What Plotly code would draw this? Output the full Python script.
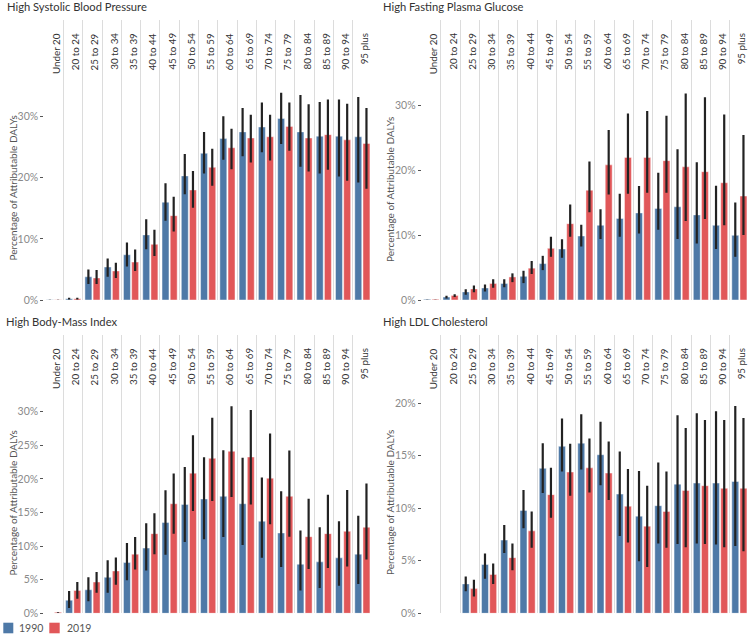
import plotly.graph_objects as go

W, H = 750, 642

ages = ["Under 20", "20 to 24", "25 to 29", "30 to 34", "35 to 39", "40 to 44",
        "45 to 49", "50 to 54", "55 to 59", "60 to 64", "65 to 69", "70 to 74",
        "75 to 79", "80 to 84", "85 to 89", "90 to 94", "95 plus"]

# High Systolic Blood Pressure
sbp_1990 = [0.05, 0.2, 3.8, 5.4, 7.4, 10.65, 16.0, 20.3, 24.0, 26.4, 27.5, 28.3, 29.7, 27.5, 26.8, 26.8, 26.7]
sbp_1990_hi = [0.07, 0.35, 5.0, 6.8, 9.4, 13.2, 19.1, 23.9, 27.5, 30.05, 31.4, 32.3, 33.9, 33.55, 32.4, 32.8, 33.2]
sbp_1990_lo = [0.03, 0.1, 2.6, 3.8, 5.5, 8.3, 12.95, 17.3, 20.7, 22.95, 23.5, 24.15, 25.5, 21.8, 20.7, 20.2, 19.2]
sbp_2019 = [0.05, 0.2, 3.6, 4.75, 6.2, 9.1, 13.8, 18.0, 21.7, 24.9, 26.5, 26.7, 28.4, 26.5, 27.05, 26.2, 25.6]
sbp_2019_hi = [0.07, 0.35, 4.9, 6.1, 8.25, 11.5, 16.9, 21.1, 24.75, 28.0, 30.3, 30.3, 32.3, 32.0, 32.8, 32.1, 31.4]
sbp_2019_lo = [0.03, 0.1, 2.6, 3.6, 4.75, 7.2, 11.2, 15.1, 18.7, 21.4, 22.5, 22.8, 24.4, 21.0, 21.3, 19.5, 18.2]

# High Fasting Plasma Glucose
fpg_1990 = [0.1, 0.45, 1.25, 1.85, 2.55, 3.65, 5.6, 7.85, 9.85, 11.5, 12.55, 13.4, 14.1, 14.35, 13.1, 11.5, 9.95]
fpg_1990_hi = [0.12, 0.65, 1.65, 2.4, 3.2, 4.5, 6.8, 9.35, 11.6, 13.95, 16.35, 17.55, 19.6, 23.2, 21.2, 17.6, 15.0]
fpg_1990_lo = [0.08, 0.25, 0.8, 1.3, 1.95, 2.6, 4.6, 6.5, 8.25, 9.4, 9.75, 10.25, 10.8, 9.4, 8.7, 7.85, 6.65]
fpg_2019 = [0.1, 0.7, 1.7, 2.55, 3.55, 4.9, 7.95, 11.75, 16.9, 20.8, 21.95, 21.95, 21.45, 20.5, 19.75, 18.05, 16.0]
fpg_2019_hi = [0.12, 0.9, 2.25, 3.2, 4.1, 6.0, 9.75, 14.7, 21.3, 26.15, 28.7, 29.1, 28.35, 31.8, 31.2, 28.55, 25.4]
fpg_2019_lo = [0.08, 0.45, 1.2, 1.9, 2.75, 4.0, 6.65, 9.75, 13.5, 16.25, 16.35, 16.5, 16.5, 12.15, 12.45, 11.5, 10.0]

# High Body-Mass Index
bmi_1990 = [0.0, 1.95, 3.5, 5.35, 7.55, 9.7, 13.5, 16.2, 17.0, 17.4, 16.3, 13.7, 11.95, 7.3, 7.65, 8.25, 8.8]
bmi_1990_hi = [0.0, 3.3, 5.35, 7.9, 10.45, 13.4, 18.3, 21.75, 23.2, 24.25, 23.15, 20.2, 18.15, 12.3, 12.8, 13.7, 14.5]
bmi_1990_lo = [0.0, 0.8, 1.8, 3.05, 4.9, 6.35, 8.7, 10.6, 11.0, 11.35, 10.15, 8.25, 6.9, 3.4, 3.75, 4.1, 4.35]
bmi_2019 = [0.15, 3.4, 4.65, 6.3, 8.8, 11.85, 16.3, 20.85, 23.05, 24.1, 23.25, 20.1, 17.4, 11.4, 11.85, 12.2, 12.8]
bmi_2019_hi = [0.2, 4.65, 6.15, 8.3, 11.35, 14.9, 20.8, 26.5, 29.1, 30.8, 30.25, 26.75, 24.2, 17.05, 17.65, 18.35, 19.3]
bmi_2019_lo = [0.1, 2.15, 3.05, 4.25, 6.5, 8.8, 11.85, 15.2, 16.7, 17.3, 16.2, 13.25, 11.4, 6.6, 6.75, 6.95, 8.0]

# High LDL Cholesterol
ldl_1990 = [0, 0, 2.8, 4.65, 6.97, 9.8, 13.8, 15.9, 16.2, 15.1, 11.35, 9.25, 10.25, 12.3, 12.4, 12.4, 12.55]
ldl_1990_hi = [0, 0, 3.5, 5.7, 8.4, 11.75, 16.2, 18.55, 18.95, 18.25, 15.4, 13.55, 14.35, 18.85, 19.05, 19.25, 19.75]
ldl_1990_lo = [0, 0, 2.1, 3.3, 5.75, 8.1, 11.45, 13.5, 13.7, 12.2, 7.35, 4.95, 6.65, 6.6, 6.65, 6.55, 6.4]
ldl_2019 = [0, 0, 2.35, 3.7, 5.3, 7.85, 11.3, 13.45, 13.85, 13.35, 10.2, 8.3, 9.7, 11.7, 12.15, 11.9, 11.9]
ldl_2019_hi = [0, 0, 3.2, 4.75, 6.65, 9.7, 13.85, 16.15, 16.65, 16.35, 13.75, 12.15, 13.5, 17.65, 18.4, 18.4, 18.6]
ldl_2019_lo = [0, 0, 1.6, 2.8, 4.1, 6.25, 9.1, 11.2, 11.5, 10.8, 6.75, 4.4, 6.25, 6.3, 6.6, 6.3, 5.9]

titles = ["High Systolic Blood Pressure", "High Fasting Plasma Glucose",
          "High Body-Mass Index", "High LDL Cholesterol"]
years = ["1990", "2019"]
colors = ["#4e79a7", "#e15759"]

series = [
    [(sbp_1990, sbp_1990_lo, sbp_1990_hi), (sbp_2019, sbp_2019_lo, sbp_2019_hi)],
    [(fpg_1990, fpg_1990_lo, fpg_1990_hi), (fpg_2019, fpg_2019_lo, fpg_2019_hi)],
    [(bmi_1990, bmi_1990_lo, bmi_1990_hi), (bmi_2019, bmi_2019_lo, bmi_2019_hi)],
    [(ldl_1990, ldl_1990_lo, ldl_1990_hi), (ldl_2019, ldl_2019_lo, ldl_2019_hi)],
]
yticks = [[0, 10, 20, 30], [0, 10, 20, 30], [0, 5, 10, 15, 20, 25, 30], [0, 5, 10, 15, 20]]
ymax = [45.8, 43.1, 41.4, 26.5]

# layout geometry (pixels)
xpix = [(44.3, 372.0), (421.7, 749.0), (44.3, 372.0), (421.7, 749.0)]
ypix = [(20, 300), (20, 300), (335, 613.3), (335, 613.3)]
title_pos = [(5, 7), (381, 7), (4, 321), (381, 321)]
ytitle_pos = [(12.5, 188), (390, 190), (12.5, 503), (390, 503)]

def px(x):
    return x / W

def py(y):
    return 1 - y / H

FONT = "Lato"
fig = go.Figure()
xs = list(range(len(ages)))
annotations = []
shapes = []
layout = {}

for k in range(4):
    sfx = "" if k == 0 else str(k + 1)
    for j in range(2):
        val, lo, hi = series[k][j]
        fig.add_trace(go.Bar(
            x=xs, y=val, name=years[j], legendgroup=years[j], showlegend=False,
            xaxis="x" + sfx, yaxis="y" + sfx,
            marker=dict(color=colors[j], line=dict(color="rgba(255,255,255,0.45)", width=1)),
            error_y=dict(type="data", symmetric=False,
                         array=[h - v for h, v in zip(hi, val)],
                         arrayminus=[v - l for v, l in zip(val, lo)],
                         color="#222222", thickness=2.2, width=0),
            hovertemplate="%{y:.1f}%<extra>" + years[j] + "</extra>",
        ))
    layout["xaxis" + sfx] = dict(
        domain=[px(xpix[k][0]), px(xpix[k][1])], range=[-0.5, len(ages) - 0.5],
        anchor="y" + sfx, tickvals=[i - 0.5 for i in range(len(ages) + 1)],
        showticklabels=False, ticks="", showgrid=True, gridcolor="#dcdcdc", gridwidth=1,
        zeroline=False, showline=False, fixedrange=True, automargin=False,
    )
    layout["yaxis" + sfx] = dict(
        domain=[py(ypix[k][1]), py(ypix[k][0])], range=[0, ymax[k]],
        anchor="x" + sfx, tickvals=yticks[k], ticktext=[f"{t}%" for t in yticks[k]],
        ticks="outside", ticklen=3, tickcolor="#555", tickwidth=1,
        tickfont=dict(family=FONT, size=10.5, color="#8a8a8a"),
        showgrid=False, zeroline=False, showline=False, fixedrange=True, automargin=False,
    )
    annotations.append(dict(
        text=titles[k], x=px(title_pos[k][0]), y=py(title_pos[k][1]), xref="paper", yref="paper",
        xanchor="left", yanchor="middle", showarrow=False,
        font=dict(family=FONT, size=11.2, color="#333333"),
    ))
    annotations.append(dict(
        text="Percentage of Attributable DALYs", x=px(ytitle_pos[k][0]), y=py(ytitle_pos[k][1]),
        xref="paper", yref="paper", xanchor="center", yanchor="middle", textangle=-90,
        showarrow=False, font=dict(family=FONT, size=10, color="#555555"),
    ))
    for i, a in enumerate(ages):
        annotations.append(dict(
            text=a, x=i, y=1, xref="x" + sfx, yref=f"y{sfx} domain",
            xanchor="center", yanchor="top", textangle=-90, yshift=-11, xshift=1.5,
            showarrow=False, font=dict(family=FONT, size=9.8, color="#333333"),
        ))

# manual legend
leg_sq = [(3.3, 13.3), (49.3, 59.7)]
leg_txt = [17, 64.5]
for j in range(2):
    shapes.append(dict(type="rect", xref="paper", yref="paper",
                       x0=px(leg_sq[j][0]), x1=px(leg_sq[j][1]), y0=py(633.3), y1=py(622.7),
                       fillcolor=colors[j], line=dict(width=0)))
    annotations.append(dict(text=years[j], x=px(leg_txt[j]), y=py(628), xref="paper", yref="paper",
                            xanchor="left", yanchor="middle", showarrow=False,
                            font=dict(family=FONT, size=10.5, color="#555555")))

fig.update_layout(
    width=W, height=H, margin=dict(l=0, r=0, t=0, b=0, autoexpand=False),
    paper_bgcolor="white", plot_bgcolor="white",
    barmode="group", bargap=0.15, bargroupgap=0.15,
    annotations=annotations, shapes=shapes, showlegend=False,
    font=dict(family=FONT),
    **layout,
)

fig.write_html("out.html", config={"displayModeBar": False},
               post_script="document.body.style.margin='0';document.body.style.padding='0';")
